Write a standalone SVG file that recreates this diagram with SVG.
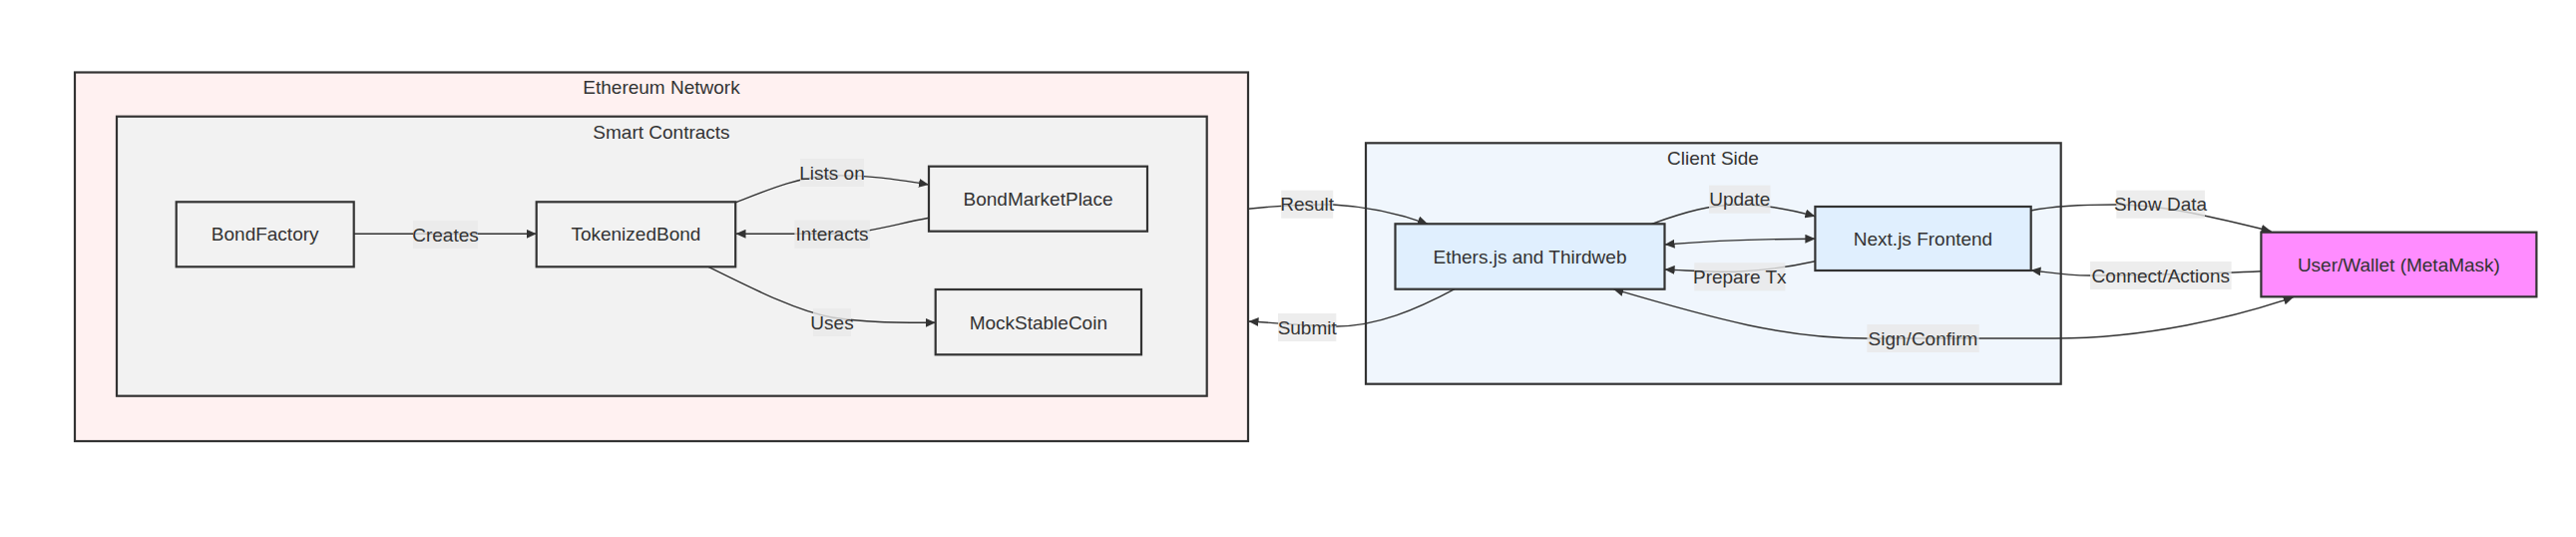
<svg xmlns="http://www.w3.org/2000/svg" width="2582" height="538" viewBox="0 0 2582 538">
<defs>
<style>
.cluster{stroke:#333;stroke-width:2.2}
.node{stroke:#333;stroke-width:2.2}
.t{font-family:"Liberation Sans",Arial,sans-serif;font-size:19px;fill:#333;text-anchor:middle}
.e{fill:none;stroke:#333;stroke-width:1.4}
.lb{fill:rgba(232,232,232,0.8)}
</style>
<marker id="arr" viewBox="0 0 10 9" refX="10" refY="4.5" markerWidth="10" markerHeight="9" markerUnits="userSpaceOnUse" orient="auto-start-reverse">
<path d="M0,0 L10,4.5 L0,9 z" fill="#333"/>
</marker>
</defs>
<rect width="2582" height="538" fill="#ffffff"/>

<g id="cluster-ethereum">
<rect class="cluster" x="75" y="72.5" width="1176" height="369.5" fill="#fff1f1"/>
<text class="t" x="663" y="93.5">Ethereum Network</text>
</g>
<g id="cluster-smart">
<rect class="cluster" x="117" y="116.7" width="1092.7" height="280" fill="#f2f2f2"/>
<text class="t" x="663" y="138.5">Smart Contracts</text>
</g>
<g id="cluster-client">
<rect class="cluster" x="1369" y="143.3" width="696.7" height="241.4" fill="#f0f6fd"/>
<text class="t" x="1717" y="164.5">Client Side</text>
</g>

<g id="connectors">
<path class="e" d="M355,234.3 L537.7,234.3" marker-end="url(#arr)"/>
<path class="e" d="M737,203 C770,190 800,177 834,176 C870,175 900,180 931,185" marker-end="url(#arr)"/>
<path class="e" d="M931,218.3 C895,225 870,234 834,234.3 L737.5,234.3" marker-end="url(#arr)"/>
<path class="e" d="M710,267.3 C760,292 800,312 834,318 C865,323 895,323.3 937.7,323.3" marker-end="url(#arr)"/>
<path class="e" d="M1458,289.7 C1420,310 1380,327 1340,327 C1310,327 1290,324 1251.5,322" marker-end="url(#arr)"/>
<path class="e" d="M1251,209.3 C1280,206 1300,204.5 1336,205 C1375,207 1405,215 1431,224.3" marker-end="url(#arr)"/>
<path class="e" d="M1655.6,224.3 C1690,212 1715,205 1744,205 C1770,205 1795,210 1819.4,216.7" marker-end="url(#arr)"/>
<path class="e" d="M1668.6,245 C1720,241 1760,239.3 1819.4,239.3" marker-start="url(#arr)" marker-end="url(#arr)"/>
<path class="e" d="M1819.4,261.7 C1800,266 1780,270 1744,272 C1720,273 1695,271 1668.6,270" marker-end="url(#arr)"/>
<path class="e" d="M2035.5,211 C2060,206 2090,205 2121,205 C2170,205 2220,218 2276.5,231.7" marker-end="url(#arr)"/>
<path class="e" d="M2266.4,271.7 C2220,274 2120,276 2095,276 C2070,276 2055,273 2035.5,270.7" marker-end="url(#arr)"/>
<path class="e" d="M2298.7,297.7 C2240,318 2150,339 2060,339 L1870,339 C1790,339 1720,320 1617.3,289.7" marker-start="url(#arr)" marker-end="url(#arr)"/>

<rect class="lb" x="414" y="221" width="65" height="28"/>
<text class="t" x="446.5" y="241.5">Creates</text>
<rect class="lb" x="802" y="159" width="64" height="28"/>
<text class="t" x="834" y="179.5">Lists on</text>
<rect class="lb" x="796.4" y="220.7" width="75.4" height="28"/>
<text class="t" x="834" y="241.2">Interacts</text>
<rect class="lb" x="815" y="309" width="38" height="28"/>
<text class="t" x="834" y="329.5">Uses</text>
<rect class="lb" x="1284.2" y="190.7" width="52" height="28"/>
<text class="t" x="1310.2" y="211.2">Result</text>
<rect class="lb" x="1281" y="314" width="58.3" height="28"/>
<text class="t" x="1310.2" y="334.5">Submit</text>
<rect class="lb" x="1713" y="185.7" width="61.5" height="28"/>
<text class="t" x="1743.8" y="206.2">Update</text>
<rect class="lb" x="1698.3" y="263.3" width="91" height="28"/>
<text class="t" x="1743.8" y="283.8">Prepare Tx</text>
<rect class="lb" x="2121.3" y="190.7" width="88.7" height="28"/>
<text class="t" x="2165.6" y="211.2">Show Data</text>
<rect class="lb" x="2095" y="262" width="141.6" height="28"/>
<text class="t" x="2165.8" y="282.5">Connect/Actions</text>
<rect class="lb" x="1871.4" y="325" width="112.3" height="28"/>
<text class="t" x="1927.5" y="345.5">Sign/Confirm</text>
</g>

<g id="node-bondfactory">
<rect class="node" x="176.7" y="202.3" width="178" height="65" fill="#f2f2f2"/>
<text class="t" x="265.7" y="241">BondFactory</text>
</g>
<g id="node-tokenizedbond">
<rect class="node" x="537.7" y="202.3" width="199.5" height="65" fill="#f2f2f2"/>
<text class="t" x="637.4" y="241">TokenizedBond</text>
</g>
<g id="node-bondmarketplace">
<rect class="node" x="931" y="166.7" width="219" height="65" fill="#f2f2f2"/>
<text class="t" x="1040.5" y="205.5">BondMarketPlace</text>
</g>
<g id="node-mockstablecoin">
<rect class="node" x="937.7" y="290" width="206.3" height="65.3" fill="#f2f2f2"/>
<text class="t" x="1040.8" y="329.5">MockStableCoin</text>
</g>
<g id="node-ethers">
<rect class="node" x="1398.5" y="224.3" width="270" height="65.4" fill="#e0effe"/>
<text class="t" x="1533.5" y="263.5">Ethers.js and Thirdweb</text>
</g>
<g id="node-nextjs">
<rect class="node" x="1819.4" y="207" width="216.3" height="64" fill="#e0effe"/>
<text class="t" x="1927.5" y="245.5">Next.js Frontend</text>
</g>
<g id="node-user">
<rect class="node" x="2266.4" y="232.7" width="276" height="64.6" fill="#ff8cff"/>
<text class="t" x="2404.4" y="271.5">User/Wallet (MetaMask)</text>
</g>
</svg>
